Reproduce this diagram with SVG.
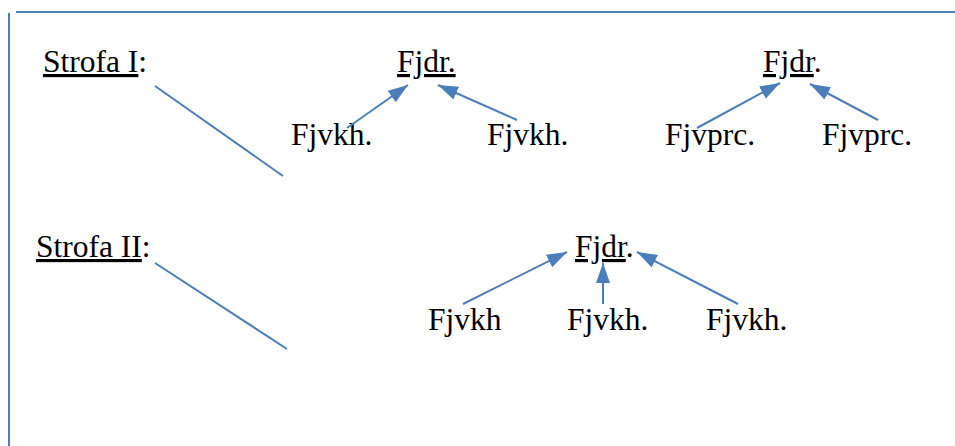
<svg xmlns="http://www.w3.org/2000/svg" width="955" height="446" viewBox="0 0 955 446">
  <style>
    text { font-family: "Liberation Serif", "Times New Roman", serif; font-size: 31.5px; fill: #000; }
    .u { text-decoration: underline; }
    .edge { stroke: #4a7ebb; stroke-width: 2; fill: none; }
    .frame { stroke: #4a7ebb; stroke-width: 2; fill: none; }
  </style>
  <defs>
    <marker id="arrow" viewBox="0 0 10 7" refX="10" refY="3.5" markerWidth="10" markerHeight="7" orient="auto" markerUnits="strokeWidth">
      <path d="M0,0 L10,3.5 L0,7 Z" fill="#4a7ebb"/>
    </marker>
  </defs>

  <!-- frame -->
  <g id="frame">
    <line class="frame" x1="16" y1="12" x2="955" y2="12"/>
    <line class="frame" x1="9" y1="13" x2="9" y2="446"/>
  </g>

  <!-- stanza I -->
  <g id="strofa1"><text x="43" y="72"><tspan class="u">Strofa I</tspan>:</text></g>
  <g id="fjdr1"><text x="397" y="72"><tspan class="u">Fjdr.</tspan></text></g>
  <g id="fjvkh1a"><text x="291" y="145">Fjvkh.</text></g>
  <g id="fjvkh1b"><text x="487" y="145">Fjvkh.</text></g>
  <g id="fjdr2"><text x="763" y="72"><tspan class="u">Fjdr</tspan>.</text></g>
  <g id="fjvprc1a"><text x="665" y="145">Fjvprc.</text></g>
  <g id="fjvprc1b"><text x="822" y="145">Fjvprc.</text></g>

  <!-- stanza II -->
  <g id="strofa2"><text x="36" y="257"><tspan class="u">Strofa II</tspan>:</text></g>
  <g id="fjdr3"><text x="575" y="257"><tspan class="u">Fjdr</tspan>.</text></g>
  <g id="fjvkh2a"><text x="428" y="330">Fjvkh</text></g>
  <g id="fjvkh2b"><text x="567" y="330">Fjvkh.</text></g>
  <g id="fjvkh2c"><text x="706" y="330">Fjvkh.</text></g>

  <!-- connectors -->
  <g id="connectors">
    <line class="edge" x1="155" y1="86" x2="283" y2="176"/>
    <line class="edge" x1="155" y1="263" x2="287" y2="349"/>
    <line class="edge" x1="347" y1="128" x2="408" y2="85" marker-end="url(#arrow)"/>
    <line class="edge" x1="517" y1="120" x2="438" y2="85" marker-end="url(#arrow)"/>
    <line class="edge" x1="697" y1="128" x2="780" y2="83" marker-end="url(#arrow)"/>
    <line class="edge" x1="878" y1="120" x2="810" y2="84" marker-end="url(#arrow)"/>
    <line class="edge" x1="463" y1="304" x2="567" y2="252" marker-end="url(#arrow)"/>
    <line class="edge" x1="603" y1="304" x2="603" y2="263" marker-end="url(#arrow)"/>
    <line class="edge" x1="738" y1="304" x2="637" y2="252" marker-end="url(#arrow)"/>
  </g>
</svg>
